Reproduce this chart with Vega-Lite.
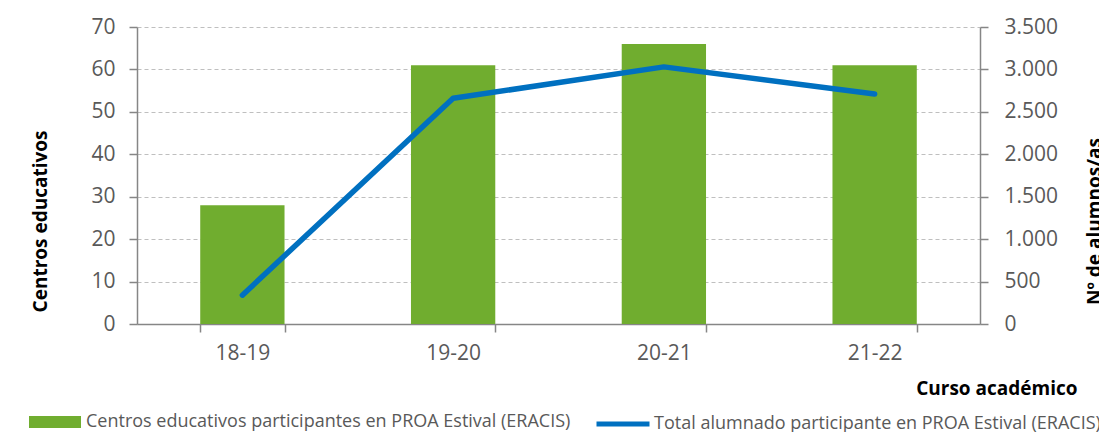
{
  "$schema": "https://vega.github.io/schema/vega-lite/v6.json",
  "width": 843,
  "height": 297,
  "autosize": "none",
  "padding": {"left": 137, "top": 27, "right": 119, "bottom": 108},
  "background": "white",
  "config": {
    "font": "Open Sans",
    "view": {"stroke": null},
    "locale": {"number": {"decimal": ",", "thousands": ".", "grouping": [3], "currency": ["", " €"]}},
    "axis": {
      "labelColor": "#595959",
      "labelFontSize": 21,
      "domainColor": "#868686",
      "tickColor": "#868686",
      "domainWidth": 1.5,
      "tickWidth": 1.5,
      "tickSize": 8,
      "titleColor": "#000000",
      "titleFontWeight": "bold",
      "titleFontSize": 19
    }
  },
  "data": {
    "values": [
      {"curso": "18-19", "centros": 28, "alumnos": 340},
      {"curso": "19-20", "centros": 61, "alumnos": 2660},
      {"curso": "20-21", "centros": 66, "alumnos": 3030},
      {"curso": "21-22", "centros": 61, "alumnos": 2710}
    ]
  },
  "layer": [
    {
      "mark": {"type": "bar", "color": "#70AD2F"},
      "encoding": {
        "x": {
          "field": "curso",
          "type": "nominal",
          "sort": null,
          "scale": {"paddingInner": 0.6, "paddingOuter": 0.3},
          "axis": {
            "title": "Curso académico",
            "titleX": 940,
            "titleY": 64,
            "titleAlign": "right",
            "titleBaseline": "middle",
            "labelAngle": 0,
            "tickBand": "extent",
            "labelPadding": 10,
            "grid": false
          }
        },
        "y": {
          "field": "centros",
          "type": "quantitative",
          "scale": {"domain": [0, 70], "nice": false},
          "axis": {
            "values": [0, 10, 20, 30, 40, 50, 60, 70],
            "title": "Centros educativos",
            "titleX": -97,
            "titleY": 194,
            "titleAngle": -90,
            "titleAlign": "center",
            "titleBaseline": "middle",
            "labelPadding": 14,
            "grid": true,
            "gridDash": [4, 3],
            "gridColor": "#BFBFBF",
            "gridWidth": 1.2
          }
        },
        "color": {
          "datum": "Centros educativos participantes en PROA Estival (ERACIS)",
          "scale": {"range": ["#70AD2F"]},
          "legend": {
            "title": null,
            "orient": "none",
            "legendX": -108,
            "legendY": 369,
            "padding": 0,
            "symbolType": "M-1,-0.23H1V0.23H-1Z",
            "symbolSize": 2704,
            "symbolStrokeWidth": 0,
            "symbolOpacity": 1,
            "labelOffset": 5,
            "labelFontSize": 18,
            "labelColor": "#595959",
            "labelLimit": 600
          }
        }
      }
    },
    {
      "mark": {"type": "line", "strokeWidth": 5.5, "strokeCap": "round", "strokeJoin": "round"},
      "encoding": {
        "x": {"field": "curso", "type": "nominal", "sort": null},
        "y": {
          "field": "alumnos",
          "type": "quantitative",
          "scale": {"domain": [0, 3500], "nice": false},
          "axis": {
            "orient": "right",
            "values": [0, 500, 1000, 1500, 2000, 2500, 3000, 3500],
            "format": ",d",
            "title": "Nº de alumnos/as",
            "titleX": 114,
            "titleY": 194,
            "titleAngle": -90,
            "titleAlign": "center",
            "titleBaseline": "middle",
            "labelPadding": 16,
            "grid": false
          }
        },
        "stroke": {
          "datum": "Total alumnado participante en PROA Estival (ERACIS)",
          "scale": {"range": ["#0070C0"]},
          "legend": {
            "title": null,
            "orient": "none",
            "legendX": 457,
            "legendY": 368,
            "padding": 0,
            "symbolType": "stroke",
            "symbolSize": 2809,
            "symbolStrokeWidth": 5,
            "labelOffset": 2,
            "labelFontSize": 18,
            "labelColor": "#595959",
            "labelLimit": 600
          }
        }
      }
    }
  ],
  "resolve": {"scale": {"y": "independent"}}
}
